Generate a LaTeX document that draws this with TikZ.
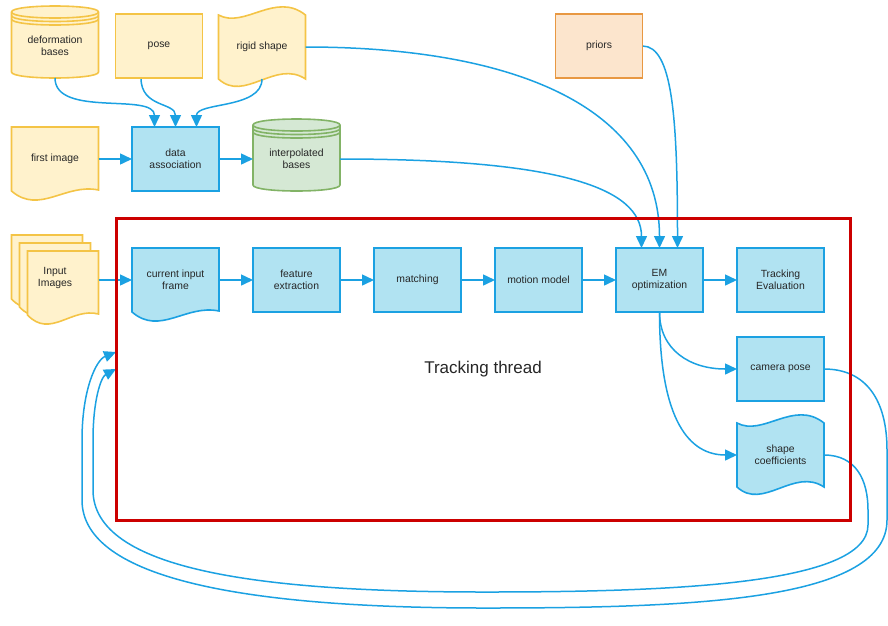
\documentclass[tikz,border=0pt]{standalone}
\usepackage{fontspec}
\setmainfont{Liberation Sans}
\usetikzlibrary{arrows.meta,calc}

\definecolor{boxblue}{RGB}{177,227,242}
\definecolor{lineblue}{RGB}{27,161,226}
\definecolor{boxyellow}{RGB}{255,242,204}
\definecolor{lineyellow}{RGB}{244,196,70}
\definecolor{boxorange}{RGB}{252,229,205}
\definecolor{lineorange}{RGB}{232,152,66}
\definecolor{boxgreen}{RGB}{213,232,212}
\definecolor{linegreen}{RGB}{130,179,102}
\definecolor{framered}{RGB}{204,0,0}

\pgfdeclarelayer{shapes}
\pgfdeclarelayer{edges}
\pgfsetlayers{shapes,edges,main}

\tikzset{
  block/.style={minimum width=87, minimum height=64, inner sep=0pt, outer sep=0pt,
    align=center, font=\fontsize{10.4}{12}\selectfont, text=black!85},
  proc/.style={block, draw=lineblue, fill=boxblue, line width=1.6pt},
  datum/.style={block, draw=lineyellow, fill=boxyellow, line width=1.6pt},
  yellowshape/.style={draw=lineyellow, fill=boxyellow, line width=1.6pt},
  blueshape/.style={draw=lineblue, fill=boxblue, line width=1.6pt},
  greenshape/.style={draw=linegreen, fill=boxgreen, line width=1.6pt},
  flow/.style={draw=lineblue, line width=1.5pt, -{Triangle[length=12pt,width=11pt]}},
}

% cylinder behind a block: #1 node, #2 style
\newcommand{\dbcyl}[2]{%
  \filldraw[#2] (#1.north west) ++(0,-2) -- ++(0,60)
    .. controls +(0,8) and +(0,8) .. ++(87,0) -- ++(0,-60)
    .. controls +(0,-8) and +(0,-8) .. ++(-87,0) -- cycle;
  \foreach \dy in {-2,1.5,5}
    \draw[#2, fill=none] (#1.north west) ++(0,\dy)
      .. controls +(0,8) and +(0,8) .. ++(87,0);
}
% page with wavy bottom: #1 corner, #2 width, #3 style
\newcommand{\docpage}[3]{%
  \filldraw[#3] (#1) -- ++(#2,0) -- ++(0,63)
    .. controls +({-0.38*#2},-7) and +({0.32*#2},24) .. ++(-#2,1) -- cycle;
}
% tape with wavy top and bottom: #1 node, #2 style
\newcommand{\tapewave}[2]{%
  \filldraw[#2] (#1.north west)
    .. controls +(26,14) and +(-30,-24) .. ++(87,0) -- ++(0,64)
    .. controls +(-30,-20) and +(26,24) .. ++(-87,0) -- cycle;
}

\begin{document}
\begin{tikzpicture}[x=1pt, y=-1pt]
  \useasboundingbox (0,0) rectangle (888,625);

  % Top row: stored inputs
  \node[block] (deform) at (55,46) {deformation\\bases};
  \node[datum] (pose) at (159,46) {pose};
  \node[block] (rigid) at (262,47) {rigid shape};
  \node[block, draw=lineorange, fill=boxorange, line width=1.6pt] (priors) at (599,46) {priors};

  % Initialisation row
  \node[block] (first) at (55,159) {first image};
  \node[proc] (assoc) at (175.5,159) {data\\association};
  \node[block] (interp) at (296.5,159) {interpolated\\bases};

  % Tracking thread
  \node[minimum width=734, minimum height=302, outer sep=0pt, draw=framered, line width=3pt,
    font=\fontsize{17}{20}\selectfont, text=black!85] (thread) at (483,369) {Tracking thread};
  \node[block, minimum height=86] (inimg) at (55,278) {Input\\Images};
  \node[block] (cur) at (175.5,280) {current input\\frame};
  \node[proc] (feat) at (296.5,280) {feature\\extraction};
  \node[proc] (match) at (417.5,280) {matching};
  \node[proc] (motion) at (538.5,280) {motion model};
  \node[proc] (em) at (659.5,280) {EM\\optimization};
  \node[proc] (eval) at (780.5,280) {Tracking\\Evaluation};
  \node[proc] (cam) at (780.5,369) {camera pose};
  \node[block] (coef) at (780.5,455) {shape\\coefficients};

  % Outlines of the non-rectangular blocks
  \begin{pgfonlayer}{shapes}
    \dbcyl{deform}{yellowshape}
    \dbcyl{interp}{greenshape}
    \tapewave{rigid}{yellowshape}
    \tapewave{coef}{blueshape}
    \docpage{first.north west}{87}{yellowshape}
    \docpage{cur.north west}{87}{blueshape}
    \docpage{inimg.north west}{71}{yellowshape}
    \docpage{$(inimg.north west)+(8,8)$}{71}{yellowshape}
    \docpage{$(inimg.north west)+(16,16)$}{71}{yellowshape}
  \end{pgfonlayer}

  \begin{pgfonlayer}{edges}
    % Into data association
    \draw[flow] (deform.south) .. controls +(0,40) and +(0,-35) .. ($(assoc.north)+(-21,0)$);
    \draw[flow] ($(pose.south)+(-18,0)$) .. controls +(0,30) and +(0,-25) .. (assoc.north);
    \draw[flow] (rigid.south) .. controls +(0,30) and +(0,-25) .. ($(assoc.north)+(21,0)$);
    \draw[flow] (first) -- (assoc);
    \draw[flow] (assoc) -- (interp);

    % Into EM optimization
    \draw[flow] (interp.east) .. controls +(220,0) and +(0,-60) .. ($(em.north)+(-18,0)$);
    \draw[flow] (rigid.east) .. controls +(210,0) and +(0,-140) .. (em.north);
    \draw[flow] (priors.east) .. controls +(30,0) and +(0,-130) .. ($(em.north)+(18,0)$);

    % Main chain
    \draw[flow] (inimg.east |- cur.west) -- (cur.west);
    \foreach \a/\b in {cur/feat, feat/match, match/motion, motion/em, em/eval}
      \draw[flow] (\a) -- (\b);

    % Outputs
    \draw[flow] (em.south) .. controls +(0,38) and +(-47,0) .. (cam.west);
    \draw[flow] (em.south) .. controls +(0,110) and +(-47,0) .. (coef.west);

    % Feedback into the next frame
    \draw[flow] (cam.east) .. controls +(42,0) and +(0,-50) .. (887,450) -- (887,520)
      .. controls +(0,80) and +(215,0) .. (485,608)
      .. controls +(-235,0) and +(0,80) .. (82,500) -- (82,440)
      .. controls +(0,-50) and +(-20,8) .. ($(thread.west)+(0,-17)$);
    \draw[flow] (coef.east) .. controls +(32,0) and +(0,-30) .. (868,510) -- (868,525)
      .. controls +(0,60) and +(183,0) .. (485,592)
      .. controls +(-225,0) and +(0,80) .. (93,490) -- (93,440)
      .. controls +(0,-40) and +(-15,8) .. (thread.west);
  \end{pgfonlayer}
\end{tikzpicture}
\end{document}
